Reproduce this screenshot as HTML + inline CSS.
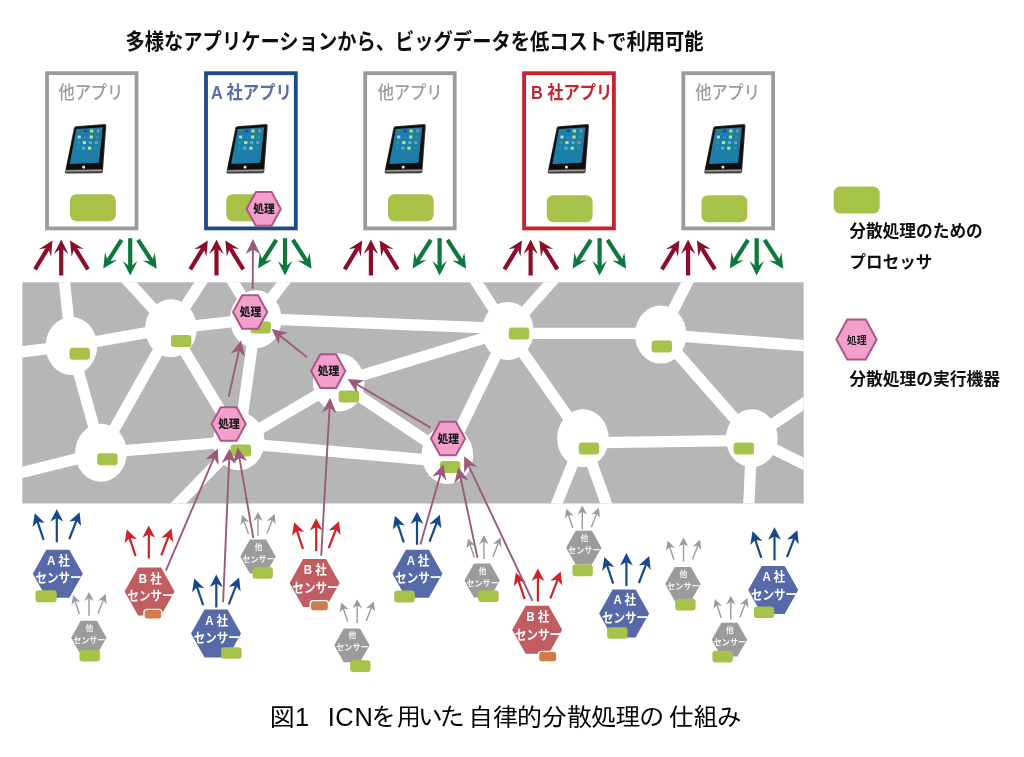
<!DOCTYPE html>
<html lang="ja"><head><meta charset="utf-8"><title>図1 ICNを用いた自律的分散処理の仕組み</title>
<style>html,body{margin:0;padding:0;background:#fff}body{width:1024px;height:757px;overflow:hidden}svg{display:block}</style>
</head><body>
<svg width="1024" height="757" viewBox="0 0 1024 757">
<defs><filter id="crisp" x="-2%" y="-20%" width="104%" height="140%"><feGaussianBlur stdDeviation="0.25"/></filter><filter id="soft" x="-2%" y="-2%" width="104%" height="104%"><feGaussianBlur stdDeviation="0.7"/></filter>
<g id="tablet">
<path d="M9.0,2.2 Q9.5,0.7 11.0,0.5 L39.6,-1.8 Q41.6,-1.9 41.4,0.2 L38.0,45.8 Q37.8,47.4 36.2,47.5 L1.8,47.9 Q-0.2,47.9 0.2,46.0 Z" fill="#3c3c3c"/>
<path d="M10.0,2.6 Q10.4,1.5 11.6,1.4 L39.0,-0.8 Q40.5,-0.9 40.4,0.6 L37.4,43.2 L1.0,43.9 Z" fill="#0c0c0c"/>
<path d="M1.0,44.5 L37.3,43.9 L37.2,45.5 L0.9,46.0 Z" fill="#9a9a9a"/>
<path d="M11.3,3.2 L37.9,1.5 L34.0,37.1 L4.8,38.4 Z" fill="#1b7da6"/>
<g>
<rect x="13.7" y="4.0" width="2.9" height="2.6" fill="#23869a"/><rect x="19.1" y="4.0" width="3.3" height="2.6" fill="#1a4aa8"/><rect x="25.1" y="3.8" width="3.3" height="3.0" fill="#c4d878"/><rect x="31.8" y="3.8" width="2.9" height="2.8" fill="#a08a94"/>
<rect x="12.8" y="9.9" width="3.1" height="2.8" fill="#b4dcdc"/><rect x="18.9" y="10.0" width="2.9" height="2.6" fill="#2a86c4"/><rect x="24.7" y="9.8" width="3.3" height="3.0" fill="#c8dc78"/><rect x="30.9" y="10.0" width="2.9" height="2.6" fill="#2a9a84"/>
<rect x="11.9" y="15.6" width="3.1" height="2.6" fill="#2a9a84"/><rect x="17.8" y="15.4" width="3.3" height="3.0" fill="#c8dc78"/><rect x="23.8" y="15.4" width="3.3" height="3.0" fill="#38b8ea"/><rect x="30.0" y="15.5" width="2.9" height="2.8" fill="#b08a94"/>
<rect x="11.1" y="21.3" width="3.0" height="2.5" fill="#2a88c8"/><rect x="16.8" y="21.0" width="3.3" height="3.0" fill="#38b8ea"/><rect x="23.0" y="21.0" width="3.3" height="3.0" fill="#c8dc78"/><rect x="29.4" y="21.3" width="2.8" height="2.5" fill="#2a9a84"/>
</g>
<rect x="17.4" y="40.0" width="2.8" height="2.8" rx="0.8" fill="#e4e4e4"/>
</g>
</defs>
<rect width="1024" height="757" fill="#fff"/>
<g filter="url(#soft)">
<text x="125.5" y="49.0" font-family='"Liberation Sans","Noto Sans CJK JP",sans-serif' font-size="22" font-weight="bold" fill="#111" textLength="578" lengthAdjust="spacingAndGlyphs">多様なアプリケーションから、ビッグデータを低コストで利用可能</text>
<rect x="47.0" y="73.2" width="89.5" height="155.2" fill="#fff" stroke="#9b9b9b" stroke-width="3.8"/>
<rect x="70.0" y="194.2" width="45.8" height="27" rx="6.5" fill="#a7c24a"/>
<use href="#tablet" x="64.9" y="125.7"/>
<text transform="translate(58.5,99.3) scale(0.885,1)" font-family='"Liberation Sans","Noto Sans CJK JP",sans-serif' font-size="18.3" font-weight="500" fill="#9c9c9c" text-anchor="start" >他アプリ</text>
<rect x="206.0" y="73.2" width="89.8" height="155.2" fill="#fff" stroke="#1c4b8c" stroke-width="3.8"/>
<rect x="226.3" y="194.2" width="45.8" height="27" rx="6.5" fill="#a7c24a"/>
<use href="#tablet" x="226.3" y="125.7"/>
<text transform="translate(210.9,99.3) scale(0.89,1)" font-family='"Liberation Sans","Noto Sans CJK JP",sans-serif' font-size="18.3" font-weight="bold" fill="#5a6ea6" text-anchor="start" >A 社アプリ</text>
<rect x="365.2" y="73.2" width="89.5" height="155.2" fill="#fff" stroke="#9b9b9b" stroke-width="3.8"/>
<rect x="387.9" y="194.2" width="45.8" height="27" rx="6.5" fill="#a7c24a"/>
<use href="#tablet" x="384.4" y="125.7"/>
<text transform="translate(377.7,99.3) scale(0.885,1)" font-family='"Liberation Sans","Noto Sans CJK JP",sans-serif' font-size="18.3" font-weight="500" fill="#9c9c9c" text-anchor="start" >他アプリ</text>
<rect x="524.1" y="73.2" width="89.8" height="155.2" fill="#fff" stroke="#c9202b" stroke-width="3.8"/>
<rect x="546.8" y="195.2" width="45.8" height="27" rx="6.5" fill="#a7c24a"/>
<use href="#tablet" x="547.6" y="125.7"/>
<text transform="translate(530.9,99.3) scale(0.89,1)" font-family='"Liberation Sans","Noto Sans CJK JP",sans-serif' font-size="18.3" font-weight="bold" fill="#c3272f" text-anchor="start" >B 社アプリ</text>
<rect x="683.3" y="73.2" width="89.8" height="155.2" fill="#fff" stroke="#9b9b9b" stroke-width="3.8"/>
<rect x="701.5" y="195.2" width="45.8" height="27" rx="6.5" fill="#a7c24a"/>
<use href="#tablet" x="704.1" y="125.7"/>
<text transform="translate(695.2,99.3) scale(0.885,1)" font-family='"Liberation Sans","Noto Sans CJK JP",sans-serif' font-size="18.3" font-weight="500" fill="#9c9c9c" text-anchor="start" >他アプリ</text>
<line x1="61.2" y1="275.5" x2="61.2" y2="246.8" stroke="#8c1029" stroke-width="4.2"/><polygon points="61.2,239.6 68.5,254.1 61.2,248.0 54.0,254.1" fill="#8c1029"/>
<line x1="35.0" y1="269.3" x2="48.7" y2="246.8" stroke="#8c1029" stroke-width="4.2"/><polygon points="52.5,240.6 51.1,256.8 48.1,247.8 38.8,249.2" fill="#8c1029"/>
<line x1="88.0" y1="269.3" x2="73.9" y2="246.7" stroke="#8c1029" stroke-width="4.2"/><polygon points="70.0,240.6 83.8,249.0 74.5,247.7 71.6,256.7" fill="#8c1029"/>
<line x1="216.5" y1="275.5" x2="216.5" y2="246.8" stroke="#8c1029" stroke-width="4.2"/><polygon points="216.5,239.6 223.8,254.1 216.5,248.0 209.2,254.1" fill="#8c1029"/>
<line x1="190.3" y1="269.3" x2="204.0" y2="246.8" stroke="#8c1029" stroke-width="4.2"/><polygon points="207.8,240.6 206.4,256.8 203.4,247.8 194.1,249.2" fill="#8c1029"/>
<line x1="243.3" y1="269.3" x2="229.2" y2="246.7" stroke="#8c1029" stroke-width="4.2"/><polygon points="225.3,240.6 239.1,249.0 229.8,247.7 226.9,256.7" fill="#8c1029"/>
<line x1="370.9" y1="275.5" x2="370.9" y2="246.8" stroke="#8c1029" stroke-width="4.2"/><polygon points="370.9,239.6 378.1,254.1 370.9,248.0 363.6,254.1" fill="#8c1029"/>
<line x1="344.7" y1="269.3" x2="358.4" y2="246.8" stroke="#8c1029" stroke-width="4.2"/><polygon points="362.2,240.6 360.8,256.8 357.8,247.8 348.5,249.2" fill="#8c1029"/>
<line x1="397.7" y1="269.3" x2="383.6" y2="246.7" stroke="#8c1029" stroke-width="4.2"/><polygon points="379.7,240.6 393.5,249.0 384.2,247.7 381.3,256.7" fill="#8c1029"/>
<line x1="530.6" y1="275.5" x2="530.6" y2="246.8" stroke="#8c1029" stroke-width="4.2"/><polygon points="530.6,239.6 537.9,254.1 530.6,248.0 523.4,254.1" fill="#8c1029"/>
<line x1="504.4" y1="269.3" x2="518.1" y2="246.8" stroke="#8c1029" stroke-width="4.2"/><polygon points="521.9,240.6 520.5,256.8 517.5,247.8 508.2,249.2" fill="#8c1029"/>
<line x1="557.4" y1="269.3" x2="543.3" y2="246.7" stroke="#8c1029" stroke-width="4.2"/><polygon points="539.4,240.6 553.2,249.0 543.9,247.7 541.0,256.7" fill="#8c1029"/>
<line x1="688.1" y1="275.5" x2="688.1" y2="246.8" stroke="#8c1029" stroke-width="4.2"/><polygon points="688.1,239.6 695.4,254.1 688.1,248.0 680.9,254.1" fill="#8c1029"/>
<line x1="661.9" y1="269.3" x2="675.6" y2="246.8" stroke="#8c1029" stroke-width="4.2"/><polygon points="679.4,240.6 678.0,256.8 675.0,247.8 665.7,249.2" fill="#8c1029"/>
<line x1="714.9" y1="269.3" x2="700.8" y2="246.7" stroke="#8c1029" stroke-width="4.2"/><polygon points="696.9,240.6 710.7,249.0 701.4,247.7 698.5,256.7" fill="#8c1029"/>
<line x1="130.2" y1="238.2" x2="130.2" y2="268.2" stroke="#10783c" stroke-width="4.2"/><polygon points="130.2,275.5 122.9,261.0 130.2,267.1 137.4,261.0" fill="#10783c"/>
<line x1="121.5" y1="239.8" x2="107.2" y2="262.3" stroke="#10783c" stroke-width="4.2"/><polygon points="103.3,268.4 105.0,252.3 107.8,261.3 117.2,260.1" fill="#10783c"/>
<line x1="138.1" y1="239.8" x2="152.8" y2="262.6" stroke="#10783c" stroke-width="4.2"/><polygon points="156.7,268.7 142.8,260.4 152.1,261.6 154.9,252.6" fill="#10783c"/>
<line x1="285.0" y1="238.2" x2="285.0" y2="268.2" stroke="#10783c" stroke-width="4.2"/><polygon points="285.0,275.5 277.8,261.0 285.0,267.1 292.2,261.0" fill="#10783c"/>
<line x1="276.3" y1="239.8" x2="262.0" y2="262.3" stroke="#10783c" stroke-width="4.2"/><polygon points="258.1,268.4 259.8,252.3 262.6,261.3 272.0,260.1" fill="#10783c"/>
<line x1="292.9" y1="239.8" x2="307.6" y2="262.6" stroke="#10783c" stroke-width="4.2"/><polygon points="311.5,268.7 297.6,260.4 306.9,261.6 309.7,252.6" fill="#10783c"/>
<line x1="439.6" y1="238.2" x2="439.6" y2="268.2" stroke="#10783c" stroke-width="4.2"/><polygon points="439.6,275.5 432.4,261.0 439.6,267.1 446.9,261.0" fill="#10783c"/>
<line x1="430.9" y1="239.8" x2="416.6" y2="262.3" stroke="#10783c" stroke-width="4.2"/><polygon points="412.7,268.4 414.4,252.3 417.2,261.3 426.6,260.1" fill="#10783c"/>
<line x1="447.5" y1="239.8" x2="462.2" y2="262.6" stroke="#10783c" stroke-width="4.2"/><polygon points="466.1,268.7 452.2,260.4 461.5,261.6 464.3,252.6" fill="#10783c"/>
<line x1="599.6" y1="238.2" x2="599.6" y2="268.2" stroke="#10783c" stroke-width="4.2"/><polygon points="599.6,275.5 592.4,261.0 599.6,267.1 606.9,261.0" fill="#10783c"/>
<line x1="590.9" y1="239.8" x2="576.6" y2="262.3" stroke="#10783c" stroke-width="4.2"/><polygon points="572.7,268.4 574.4,252.3 577.2,261.3 586.6,260.1" fill="#10783c"/>
<line x1="607.5" y1="239.8" x2="622.2" y2="262.6" stroke="#10783c" stroke-width="4.2"/><polygon points="626.1,268.7 612.2,260.4 621.5,261.6 624.3,252.6" fill="#10783c"/>
<line x1="756.7" y1="238.2" x2="756.7" y2="268.2" stroke="#10783c" stroke-width="4.2"/><polygon points="756.7,275.5 749.5,261.0 756.7,267.1 764.0,261.0" fill="#10783c"/>
<line x1="748.0" y1="239.8" x2="733.7" y2="262.3" stroke="#10783c" stroke-width="4.2"/><polygon points="729.8,268.4 731.5,252.3 734.3,261.3 743.7,260.1" fill="#10783c"/>
<line x1="764.6" y1="239.8" x2="779.3" y2="262.6" stroke="#10783c" stroke-width="4.2"/><polygon points="783.2,268.7 769.3,260.4 778.6,261.6 781.4,252.6" fill="#10783c"/>
<clipPath id="band"><rect x="22.3" y="282.3" width="781.4" height="221.2"/></clipPath>
<rect x="22.3" y="282.3" width="781.4" height="221.2" fill="#b6b6b6"/>
<g clip-path="url(#band)" stroke="#fff" stroke-width="11.3" stroke-linecap="butt">
<line x1="71.4" y1="346.0" x2="62.4" y2="263.2"/>
<line x1="71.4" y1="346.0" x2="7.6" y2="353.5"/>
<line x1="71.4" y1="346.0" x2="171.0" y2="328.3"/>
<line x1="71.4" y1="346.0" x2="101.0" y2="452.7"/>
<line x1="171.0" y1="328.3" x2="101.0" y2="452.7"/>
<line x1="171.0" y1="328.3" x2="116.4" y2="268.5"/>
<line x1="171.0" y1="328.3" x2="210.0" y2="268.5"/>
<line x1="255.8" y1="319.2" x2="226.4" y2="271.2"/>
<line x1="255.8" y1="319.2" x2="292.1" y2="271.2"/>
<line x1="171.0" y1="328.3" x2="255.8" y2="319.2"/>
<line x1="171.0" y1="328.3" x2="238.8" y2="441.2"/>
<line x1="255.8" y1="319.2" x2="238.8" y2="441.2"/>
<line x1="255.8" y1="318.6" x2="507.8" y2="328.6"/>
<line x1="338.7" y1="382.4" x2="507.8" y2="330.9"/>
<line x1="338.7" y1="382.4" x2="238.8" y2="441.2"/>
<line x1="338.7" y1="382.4" x2="447.4" y2="455.0"/>
<line x1="238.8" y1="443.1" x2="447.4" y2="461.6"/>
<line x1="238.8" y1="441.2" x2="101.0" y2="452.7"/>
<line x1="238.8" y1="441.2" x2="160.4" y2="521.9"/>
<line x1="101.0" y1="452.7" x2="-1.3" y2="478.3"/>
<line x1="507.8" y1="330.9" x2="467.2" y2="267.7"/>
<line x1="507.8" y1="330.9" x2="564.0" y2="267.7"/>
<line x1="507.8" y1="333.4" x2="660.7" y2="333.4"/>
<line x1="507.8" y1="330.9" x2="447.4" y2="455.0"/>
<line x1="507.8" y1="330.9" x2="582.9" y2="438.3"/>
<line x1="660.7" y1="334.6" x2="695.4" y2="266.6"/>
<line x1="660.7" y1="334.6" x2="846.9" y2="348.9"/>
<line x1="660.7" y1="334.6" x2="751.8" y2="438.3"/>
<line x1="582.9" y1="442.8" x2="751.8" y2="440.4"/>
<line x1="582.9" y1="438.3" x2="549.0" y2="522.8"/>
<line x1="582.9" y1="438.3" x2="613.2" y2="522.8"/>
<line x1="751.8" y1="438.3" x2="748.0" y2="522.8"/>
<line x1="751.8" y1="438.3" x2="819.5" y2="392.9"/>
<line x1="751.8" y1="438.3" x2="819.5" y2="471.7"/>
</g>
<ellipse cx="71.4" cy="346.0" rx="25.8" ry="29" fill="#fff"/>
<ellipse cx="171.0" cy="328.3" rx="25.8" ry="29" fill="#fff"/>
<ellipse cx="101.0" cy="452.7" rx="25.8" ry="29" fill="#fff"/>
<ellipse cx="255.8" cy="319.2" rx="25.8" ry="29" fill="#fff"/>
<ellipse cx="338.7" cy="382.4" rx="25.8" ry="29" fill="#fff"/>
<ellipse cx="507.8" cy="330.9" rx="25.8" ry="29" fill="#fff"/>
<ellipse cx="238.8" cy="441.2" rx="25.8" ry="29" fill="#fff"/>
<ellipse cx="447.4" cy="455.0" rx="25.8" ry="29" fill="#fff"/>
<ellipse cx="660.7" cy="334.6" rx="25.8" ry="29" fill="#fff"/>
<ellipse cx="582.9" cy="438.3" rx="25.8" ry="29" fill="#fff"/>
<ellipse cx="751.8" cy="438.3" rx="25.8" ry="29" fill="#fff"/>
<rect x="69.5" y="347.7" width="20.4" height="12" rx="3" fill="#a7c24a"/>
<rect x="171.0" y="335.0" width="20.4" height="12" rx="3" fill="#a7c24a"/>
<rect x="97.2" y="453.3" width="20.4" height="12" rx="3" fill="#a7c24a"/>
<rect x="250.5" y="321.5" width="20.4" height="12" rx="3" fill="#a7c24a"/>
<rect x="338.7" y="390.4" width="20.4" height="12" rx="3" fill="#a7c24a"/>
<rect x="508.8" y="327.5" width="20.4" height="12" rx="3" fill="#a7c24a"/>
<rect x="230.6" y="444.4" width="20.4" height="12" rx="3" fill="#a7c24a"/>
<rect x="440.0" y="460.9" width="20.4" height="12" rx="3" fill="#a7c24a"/>
<rect x="651.6" y="340.4" width="20.4" height="12" rx="3" fill="#a7c24a"/>
<rect x="578.8" y="442.6" width="20.4" height="12" rx="3" fill="#a7c24a"/>
<rect x="733.6" y="442.6" width="20.4" height="12" rx="3" fill="#a7c24a"/>
<polygon points="32.8,573.7 46.3,549.7 69.3,549.7 82.8,573.7 69.3,597.7 46.3,597.7" fill="#5669a8"/>
<text transform="translate(58.4,564.7) scale(0.9,1)" font-family='"Liberation Sans","Noto Sans CJK JP",sans-serif' font-size="12.8" font-weight="bold" fill="#fff" text-anchor="middle" >A 社</text>
<text transform="translate(58.6,582.4) scale(0.9,1)" font-family='"Liberation Sans","Noto Sans CJK JP",sans-serif' font-size="12.8" font-weight="bold" fill="#fff" text-anchor="middle" >センサー</text>
<rect x="35.5" y="590.2" width="21.2" height="12" rx="3" fill="#a7c24a"/>
<line x1="56.8" y1="542.2" x2="56.8" y2="515.4" stroke="#17488a" stroke-width="2.2"/><polygon points="56.8,509.2 63.2,521.6 56.8,518.1 50.4,521.6" fill="#17488a"/>
<line x1="43.6" y1="539.8" x2="36.7" y2="519.1" stroke="#17488a" stroke-width="2.2"/><polygon points="34.8,513.2 44.8,523.0 37.6,521.7 32.6,527.0" fill="#17488a"/>
<line x1="69.3" y1="539.1" x2="77.4" y2="518.0" stroke="#17488a" stroke-width="2.2"/><polygon points="79.6,512.2 81.1,526.1 76.4,520.5 69.2,521.5" fill="#17488a"/>
<polygon points="124.6,591.6 138.1,567.6 161.1,567.6 174.6,591.6 161.1,615.6 138.1,615.6" fill="#c15b60"/>
<text transform="translate(150.2,582.6) scale(0.9,1)" font-family='"Liberation Sans","Noto Sans CJK JP",sans-serif' font-size="12.8" font-weight="bold" fill="#fff" text-anchor="middle" >B 社</text>
<text transform="translate(150.4,600.3) scale(0.9,1)" font-family='"Liberation Sans","Noto Sans CJK JP",sans-serif' font-size="12.8" font-weight="bold" fill="#fff" text-anchor="middle" >センサー</text>
<rect x="144.0" y="609.4" width="17.8" height="9.8" rx="3" fill="#d27a4a" stroke="#fff" stroke-width="1.4"/>
<line x1="148.8" y1="558.4" x2="148.8" y2="531.6" stroke="#d0212c" stroke-width="2.2"/><polygon points="148.8,525.4 155.2,537.8 148.8,534.3 142.4,537.8" fill="#d0212c"/>
<line x1="135.6" y1="556.0" x2="128.7" y2="535.3" stroke="#d0212c" stroke-width="2.2"/><polygon points="126.8,529.4 136.8,539.2 129.6,537.9 124.6,543.2" fill="#d0212c"/>
<line x1="161.3" y1="555.3" x2="169.4" y2="534.2" stroke="#d0212c" stroke-width="2.2"/><polygon points="171.6,528.4 173.1,542.3 168.4,536.7 161.2,537.7" fill="#d0212c"/>
<polygon points="191.0,633.5 204.5,609.5 227.5,609.5 241.0,633.5 227.5,657.5 204.5,657.5" fill="#5669a8"/>
<text transform="translate(216.6,624.5) scale(0.9,1)" font-family='"Liberation Sans","Noto Sans CJK JP",sans-serif' font-size="12.8" font-weight="bold" fill="#fff" text-anchor="middle" >A 社</text>
<text transform="translate(216.8,642.2) scale(0.9,1)" font-family='"Liberation Sans","Noto Sans CJK JP",sans-serif' font-size="12.8" font-weight="bold" fill="#fff" text-anchor="middle" >センサー</text>
<rect x="221.1" y="647.2" width="20.6" height="11.6" rx="3" fill="#a7c24a"/>
<line x1="216.3" y1="607.5" x2="216.3" y2="580.7" stroke="#17488a" stroke-width="2.2"/><polygon points="216.3,574.5 222.7,586.9 216.3,583.4 209.9,586.9" fill="#17488a"/>
<line x1="203.1" y1="605.1" x2="196.2" y2="584.4" stroke="#17488a" stroke-width="2.2"/><polygon points="194.3,578.5 204.3,588.3 197.1,587.0 192.1,592.3" fill="#17488a"/>
<line x1="228.8" y1="604.4" x2="236.9" y2="583.3" stroke="#17488a" stroke-width="2.2"/><polygon points="239.1,577.5 240.6,591.4 235.9,585.8 228.7,586.8" fill="#17488a"/>
<polygon points="289.6,583.0 303.1,559.0 326.1,559.0 339.6,583.0 326.1,607.0 303.1,607.0" fill="#c15b60"/>
<text transform="translate(315.2,574.0) scale(0.9,1)" font-family='"Liberation Sans","Noto Sans CJK JP",sans-serif' font-size="12.8" font-weight="bold" fill="#fff" text-anchor="middle" >B 社</text>
<text transform="translate(315.4,591.7) scale(0.9,1)" font-family='"Liberation Sans","Noto Sans CJK JP",sans-serif' font-size="12.8" font-weight="bold" fill="#fff" text-anchor="middle" >センサー</text>
<rect x="310.3" y="600.6" width="18.2" height="10.4" rx="3" fill="#d27a4a" stroke="#fff" stroke-width="1.4"/>
<line x1="316.2" y1="551.2" x2="316.2" y2="524.4" stroke="#d0212c" stroke-width="2.2"/><polygon points="316.2,518.2 322.6,530.6 316.2,527.1 309.8,530.6" fill="#d0212c"/>
<line x1="303.0" y1="548.8" x2="296.1" y2="528.1" stroke="#d0212c" stroke-width="2.2"/><polygon points="294.2,522.2 304.2,532.0 297.0,530.7 292.0,536.0" fill="#d0212c"/>
<line x1="328.7" y1="548.1" x2="336.8" y2="527.0" stroke="#d0212c" stroke-width="2.2"/><polygon points="339.0,521.2 340.5,535.1 335.8,529.5 328.6,530.5" fill="#d0212c"/>
<polygon points="392.4,573.7 405.9,549.7 428.9,549.7 442.4,573.7 428.9,597.7 405.9,597.7" fill="#5669a8"/>
<text transform="translate(418.0,564.7) scale(0.9,1)" font-family='"Liberation Sans","Noto Sans CJK JP",sans-serif' font-size="12.8" font-weight="bold" fill="#fff" text-anchor="middle" >A 社</text>
<text transform="translate(418.2,582.4) scale(0.9,1)" font-family='"Liberation Sans","Noto Sans CJK JP",sans-serif' font-size="12.8" font-weight="bold" fill="#fff" text-anchor="middle" >センサー</text>
<rect x="394.2" y="590.6" width="20.6" height="11.8" rx="3" fill="#a7c24a"/>
<line x1="417.0" y1="544.7" x2="417.0" y2="517.9" stroke="#17488a" stroke-width="2.2"/><polygon points="417.0,511.7 423.4,524.1 417.0,520.6 410.6,524.1" fill="#17488a"/>
<line x1="403.8" y1="542.3" x2="396.9" y2="521.6" stroke="#17488a" stroke-width="2.2"/><polygon points="395.0,515.7 405.0,525.5 397.8,524.2 392.8,529.5" fill="#17488a"/>
<line x1="429.5" y1="541.6" x2="437.6" y2="520.5" stroke="#17488a" stroke-width="2.2"/><polygon points="439.8,514.7 441.3,528.6 436.6,523.0 429.4,524.0" fill="#17488a"/>
<polygon points="512.2,629.8 525.7,605.8 548.7,605.8 562.2,629.8 548.7,653.8 525.7,653.8" fill="#c15b60"/>
<text transform="translate(537.8,620.8) scale(0.9,1)" font-family='"Liberation Sans","Noto Sans CJK JP",sans-serif' font-size="12.8" font-weight="bold" fill="#fff" text-anchor="middle" >B 社</text>
<text transform="translate(538.0,638.5) scale(0.9,1)" font-family='"Liberation Sans","Noto Sans CJK JP",sans-serif' font-size="12.8" font-weight="bold" fill="#fff" text-anchor="middle" >センサー</text>
<rect x="538.5" y="651.4" width="18.4" height="10.6" rx="3" fill="#d27a4a" stroke="#fff" stroke-width="1.4"/>
<line x1="537.9" y1="601.5" x2="537.9" y2="574.7" stroke="#d0212c" stroke-width="2.2"/><polygon points="537.9,568.5 544.3,580.9 537.9,577.4 531.5,580.9" fill="#d0212c"/>
<line x1="524.7" y1="599.1" x2="517.8" y2="578.4" stroke="#d0212c" stroke-width="2.2"/><polygon points="515.9,572.5 525.9,582.3 518.7,581.0 513.7,586.3" fill="#d0212c"/>
<line x1="550.4" y1="598.4" x2="558.5" y2="577.3" stroke="#d0212c" stroke-width="2.2"/><polygon points="560.7,571.5 562.2,585.4 557.5,579.8 550.3,580.8" fill="#d0212c"/>
<polygon points="599.1,613.4 612.6,589.4 635.6,589.4 649.1,613.4 635.6,637.4 612.6,637.4" fill="#5669a8"/>
<text transform="translate(624.7,604.4) scale(0.9,1)" font-family='"Liberation Sans","Noto Sans CJK JP",sans-serif' font-size="12.8" font-weight="bold" fill="#fff" text-anchor="middle" >A 社</text>
<text transform="translate(624.9,622.1) scale(0.9,1)" font-family='"Liberation Sans","Noto Sans CJK JP",sans-serif' font-size="12.8" font-weight="bold" fill="#fff" text-anchor="middle" >センサー</text>
<rect x="607.1" y="627.3" width="20.5" height="11.4" rx="3" fill="#a7c24a"/>
<line x1="626.4" y1="586.1" x2="626.4" y2="559.3" stroke="#17488a" stroke-width="2.2"/><polygon points="626.4,553.1 632.8,565.5 626.4,562.0 620.0,565.5" fill="#17488a"/>
<line x1="613.2" y1="583.7" x2="606.3" y2="563.0" stroke="#17488a" stroke-width="2.2"/><polygon points="604.4,557.1 614.4,566.9 607.2,565.6 602.2,570.9" fill="#17488a"/>
<line x1="638.9" y1="583.0" x2="647.0" y2="561.9" stroke="#17488a" stroke-width="2.2"/><polygon points="649.2,556.1 650.7,570.0 646.0,564.4 638.8,565.4" fill="#17488a"/>
<polygon points="748.2,590.1 761.7,566.1 784.7,566.1 798.2,590.1 784.7,614.1 761.7,614.1" fill="#5669a8"/>
<text transform="translate(773.8,581.1) scale(0.9,1)" font-family='"Liberation Sans","Noto Sans CJK JP",sans-serif' font-size="12.8" font-weight="bold" fill="#fff" text-anchor="middle" >A 社</text>
<text transform="translate(774.0,598.8) scale(0.9,1)" font-family='"Liberation Sans","Noto Sans CJK JP",sans-serif' font-size="12.8" font-weight="bold" fill="#fff" text-anchor="middle" >センサー</text>
<rect x="753.9" y="606.5" width="20.3" height="11.6" rx="3" fill="#a7c24a"/>
<line x1="774.5" y1="560.3" x2="774.5" y2="533.5" stroke="#17488a" stroke-width="2.2"/><polygon points="774.5,527.3 780.9,539.7 774.5,536.2 768.1,539.7" fill="#17488a"/>
<line x1="761.3" y1="557.9" x2="754.4" y2="537.2" stroke="#17488a" stroke-width="2.2"/><polygon points="752.5,531.3 762.5,541.1 755.3,539.8 750.3,545.1" fill="#17488a"/>
<line x1="787.0" y1="557.2" x2="795.1" y2="536.1" stroke="#17488a" stroke-width="2.2"/><polygon points="797.3,530.3 798.8,544.2 794.1,538.6 786.9,539.6" fill="#17488a"/>
<polygon points="71.1,637.7 80.7,620.8 96.9,620.8 106.5,637.7 96.9,654.6 80.7,654.6" fill="#9b9b9b"/>
<text transform="translate(89.3,630.7) scale(0.92,1)" font-family='"Liberation Sans","Noto Sans CJK JP",sans-serif' font-size="8.4" font-weight="bold" fill="#eee" text-anchor="middle" >他</text>
<text transform="translate(89.3,642.7) scale(0.96,1)" font-family='"Liberation Sans","Noto Sans CJK JP",sans-serif' font-size="8.4" font-weight="bold" fill="#f4f4f4" text-anchor="middle" >センサー</text>
<rect x="79.5" y="649.8" width="20.4" height="11.8" rx="3" fill="#a7c24a"/>
<line x1="89.0" y1="615.7" x2="89.0" y2="596.4" stroke="#9a9a9a" stroke-width="1.4"/><polygon points="89.0,591.9 93.7,600.9 89.0,598.2 84.3,600.9" fill="#9a9a9a"/>
<line x1="79.5" y1="614.1" x2="74.5" y2="599.4" stroke="#9a9a9a" stroke-width="1.4"/><polygon points="73.1,595.1 80.4,602.1 75.1,601.1 71.5,605.1" fill="#9a9a9a"/>
<line x1="98.0" y1="613.6" x2="104.0" y2="598.3" stroke="#9a9a9a" stroke-width="1.4"/><polygon points="105.6,594.1 106.7,604.2 103.3,600.0 98.0,600.8" fill="#9a9a9a"/>
<polygon points="240.3,556.5 249.9,539.6 266.1,539.6 275.7,556.5 266.1,573.4 249.9,573.4" fill="#9b9b9b"/>
<text transform="translate(258.5,549.5) scale(0.92,1)" font-family='"Liberation Sans","Noto Sans CJK JP",sans-serif' font-size="8.4" font-weight="bold" fill="#eee" text-anchor="middle" >他</text>
<text transform="translate(258.5,561.5) scale(0.96,1)" font-family='"Liberation Sans","Noto Sans CJK JP",sans-serif' font-size="8.4" font-weight="bold" fill="#f4f4f4" text-anchor="middle" >センサー</text>
<rect x="252.5" y="566.9" width="20.4" height="11.8" rx="3" fill="#a7c24a"/>
<line x1="258.0" y1="535.7" x2="258.0" y2="516.4" stroke="#9a9a9a" stroke-width="1.4"/><polygon points="258.0,511.9 262.7,520.9 258.0,518.2 253.3,520.9" fill="#9a9a9a"/>
<line x1="248.5" y1="534.1" x2="243.5" y2="519.4" stroke="#9a9a9a" stroke-width="1.4"/><polygon points="242.1,515.1 249.4,522.1 244.1,521.1 240.5,525.1" fill="#9a9a9a"/>
<line x1="267.0" y1="533.6" x2="273.0" y2="518.3" stroke="#9a9a9a" stroke-width="1.4"/><polygon points="274.6,514.1 275.7,524.2 272.3,520.0 267.0,520.8" fill="#9a9a9a"/>
<polygon points="334.2,645.3 343.8,628.4 360.0,628.4 369.6,645.3 360.0,662.2 343.8,662.2" fill="#9b9b9b"/>
<text transform="translate(352.4,638.3) scale(0.92,1)" font-family='"Liberation Sans","Noto Sans CJK JP",sans-serif' font-size="8.4" font-weight="bold" fill="#eee" text-anchor="middle" >他</text>
<text transform="translate(352.4,650.3) scale(0.96,1)" font-family='"Liberation Sans","Noto Sans CJK JP",sans-serif' font-size="8.4" font-weight="bold" fill="#f4f4f4" text-anchor="middle" >センサー</text>
<rect x="350.1" y="660.2" width="20.4" height="11.8" rx="3" fill="#a7c24a"/>
<line x1="357.2" y1="623.1" x2="357.2" y2="603.8" stroke="#9a9a9a" stroke-width="1.4"/><polygon points="357.2,599.3 361.9,608.3 357.2,605.6 352.5,608.3" fill="#9a9a9a"/>
<line x1="347.7" y1="621.5" x2="342.7" y2="606.8" stroke="#9a9a9a" stroke-width="1.4"/><polygon points="341.3,602.5 348.6,609.5 343.3,608.5 339.7,612.5" fill="#9a9a9a"/>
<line x1="366.2" y1="621.0" x2="372.2" y2="605.7" stroke="#9a9a9a" stroke-width="1.4"/><polygon points="373.8,601.5 374.9,611.6 371.5,607.4 366.2,608.2" fill="#9a9a9a"/>
<polygon points="464.4,580.5 474.0,563.6 490.2,563.6 499.8,580.5 490.2,597.4 474.0,597.4" fill="#9b9b9b"/>
<text transform="translate(482.6,573.5) scale(0.92,1)" font-family='"Liberation Sans","Noto Sans CJK JP",sans-serif' font-size="8.4" font-weight="bold" fill="#eee" text-anchor="middle" >他</text>
<text transform="translate(482.6,585.5) scale(0.96,1)" font-family='"Liberation Sans","Noto Sans CJK JP",sans-serif' font-size="8.4" font-weight="bold" fill="#f4f4f4" text-anchor="middle" >センサー</text>
<rect x="478.2" y="590.2" width="20.4" height="11.8" rx="3" fill="#a7c24a"/>
<line x1="483.9" y1="559.0" x2="483.9" y2="539.7" stroke="#9a9a9a" stroke-width="1.4"/><polygon points="483.9,535.2 488.6,544.2 483.9,541.5 479.2,544.2" fill="#9a9a9a"/>
<line x1="474.4" y1="557.4" x2="469.4" y2="542.7" stroke="#9a9a9a" stroke-width="1.4"/><polygon points="468.0,538.4 475.3,545.4 470.0,544.4 466.4,548.4" fill="#9a9a9a"/>
<line x1="492.9" y1="556.9" x2="498.9" y2="541.6" stroke="#9a9a9a" stroke-width="1.4"/><polygon points="500.5,537.4 501.6,547.5 498.2,543.3 492.9,544.1" fill="#9a9a9a"/>
<polygon points="566.1,547.7 575.7,530.8 591.9,530.8 601.5,547.7 591.9,564.6 575.7,564.6" fill="#9b9b9b"/>
<text transform="translate(584.3,540.7) scale(0.92,1)" font-family='"Liberation Sans","Noto Sans CJK JP",sans-serif' font-size="8.4" font-weight="bold" fill="#eee" text-anchor="middle" >他</text>
<text transform="translate(584.3,552.7) scale(0.96,1)" font-family='"Liberation Sans","Noto Sans CJK JP",sans-serif' font-size="8.4" font-weight="bold" fill="#f4f4f4" text-anchor="middle" >センサー</text>
<rect x="572.4" y="564.4" width="20.4" height="11.8" rx="3" fill="#a7c24a"/>
<line x1="582.3" y1="529.3" x2="582.3" y2="510.0" stroke="#9a9a9a" stroke-width="1.4"/><polygon points="582.3,505.5 587.0,514.5 582.3,511.8 577.6,514.5" fill="#9a9a9a"/>
<line x1="572.8" y1="527.7" x2="567.8" y2="513.0" stroke="#9a9a9a" stroke-width="1.4"/><polygon points="566.4,508.7 573.7,515.7 568.4,514.7 564.8,518.7" fill="#9a9a9a"/>
<line x1="591.3" y1="527.2" x2="597.3" y2="511.9" stroke="#9a9a9a" stroke-width="1.4"/><polygon points="598.9,507.7 600.0,517.8 596.6,513.6 591.3,514.4" fill="#9a9a9a"/>
<polygon points="665.2,584.0 674.8,567.1 691.0,567.1 700.6,584.0 691.0,600.9 674.8,600.9" fill="#9b9b9b"/>
<text transform="translate(683.4,577.0) scale(0.92,1)" font-family='"Liberation Sans","Noto Sans CJK JP",sans-serif' font-size="8.4" font-weight="bold" fill="#eee" text-anchor="middle" >他</text>
<text transform="translate(683.4,589.0) scale(0.96,1)" font-family='"Liberation Sans","Noto Sans CJK JP",sans-serif' font-size="8.4" font-weight="bold" fill="#f4f4f4" text-anchor="middle" >センサー</text>
<rect x="675.2" y="598.8" width="20.4" height="11.8" rx="3" fill="#a7c24a"/>
<line x1="683.5" y1="561.4" x2="683.5" y2="542.1" stroke="#9a9a9a" stroke-width="1.4"/><polygon points="683.5,537.6 688.2,546.6 683.5,543.9 678.8,546.6" fill="#9a9a9a"/>
<line x1="674.0" y1="559.8" x2="669.0" y2="545.1" stroke="#9a9a9a" stroke-width="1.4"/><polygon points="667.6,540.8 674.9,547.8 669.6,546.8 666.0,550.8" fill="#9a9a9a"/>
<line x1="692.5" y1="559.3" x2="698.5" y2="544.0" stroke="#9a9a9a" stroke-width="1.4"/><polygon points="700.1,539.8 701.2,549.9 697.8,545.7 692.5,546.5" fill="#9a9a9a"/>
<polygon points="711.7,639.7 721.3,622.8 737.5,622.8 747.1,639.7 737.5,656.6 721.3,656.6" fill="#9b9b9b"/>
<text transform="translate(729.9,632.7) scale(0.92,1)" font-family='"Liberation Sans","Noto Sans CJK JP",sans-serif' font-size="8.4" font-weight="bold" fill="#eee" text-anchor="middle" >他</text>
<text transform="translate(729.9,644.7) scale(0.96,1)" font-family='"Liberation Sans","Noto Sans CJK JP",sans-serif' font-size="8.4" font-weight="bold" fill="#f4f4f4" text-anchor="middle" >センサー</text>
<rect x="712.4" y="650.8" width="20.4" height="11.8" rx="3" fill="#a7c24a"/>
<line x1="730.8" y1="619.5" x2="730.8" y2="600.2" stroke="#9a9a9a" stroke-width="1.4"/><polygon points="730.8,595.7 735.5,604.7 730.8,602.0 726.1,604.7" fill="#9a9a9a"/>
<line x1="721.3" y1="617.9" x2="716.3" y2="603.2" stroke="#9a9a9a" stroke-width="1.4"/><polygon points="714.9,598.9 722.2,605.9 716.9,604.9 713.3,608.9" fill="#9a9a9a"/>
<line x1="739.8" y1="617.4" x2="745.8" y2="602.1" stroke="#9a9a9a" stroke-width="1.4"/><polygon points="747.4,597.9 748.5,608.0 745.1,603.8 739.8,604.6" fill="#9a9a9a"/>
<line x1="252.7" y1="288.5" x2="253.0" y2="246.5" stroke="#9a5a7e" stroke-width="1.9"/><polygon points="253.0,239.0 260.2,254.0 252.9,249.5 245.7,254.0" fill="#9a5a7e"/>
<line x1="228.7" y1="396.9" x2="239.5" y2="347.7" stroke="#9a5a7e" stroke-width="1.9"/><polygon points="241.1,340.4 245.0,356.6 238.8,350.7 230.8,353.5" fill="#9a5a7e"/>
<line x1="307.0" y1="357.2" x2="277.6" y2="333.7" stroke="#9a5a7e" stroke-width="1.9"/><polygon points="271.7,329.0 287.9,332.7 279.9,335.6 278.9,344.0" fill="#9a5a7e"/>
<line x1="430.5" y1="427.6" x2="354.1" y2="382.8" stroke="#9a5a7e" stroke-width="1.9"/><polygon points="347.6,379.0 364.2,380.3 356.7,384.3 356.9,392.8" fill="#9a5a7e"/>
<line x1="165.9" y1="570.6" x2="214.9" y2="455.3" stroke="#9a5a7e" stroke-width="1.9"/><polygon points="217.8,448.4 218.6,465.0 213.7,458.1 205.3,459.4" fill="#9a5a7e"/>
<line x1="223.1" y1="602.3" x2="229.3" y2="455.9" stroke="#9a5a7e" stroke-width="1.9"/><polygon points="229.6,448.4 236.2,463.7 229.2,458.9 221.7,463.1" fill="#9a5a7e"/>
<line x1="253.3" y1="538.1" x2="238.9" y2="454.8" stroke="#9a5a7e" stroke-width="1.9"/><polygon points="237.6,447.4 247.3,460.9 239.4,457.7 233.0,463.4" fill="#9a5a7e"/>
<line x1="321.2" y1="555.8" x2="329.7" y2="405.3" stroke="#9a5a7e" stroke-width="1.9"/><polygon points="330.1,397.8 336.5,413.2 329.5,408.3 322.0,412.4" fill="#9a5a7e"/>
<line x1="420.4" y1="544.4" x2="441.3" y2="471.4" stroke="#9a5a7e" stroke-width="1.9"/><polygon points="443.4,464.2 446.2,480.6 440.5,474.3 432.3,476.6" fill="#9a5a7e"/>
<line x1="477.5" y1="557.9" x2="459.9" y2="474.5" stroke="#9a5a7e" stroke-width="1.9"/><polygon points="458.3,467.2 468.5,480.4 460.5,477.5 454.3,483.4" fill="#9a5a7e"/>
<line x1="532.6" y1="601.0" x2="467.4" y2="463.1" stroke="#9a5a7e" stroke-width="1.9"/><polygon points="464.2,456.3 477.2,466.8 468.7,465.8 464.1,473.0" fill="#9a5a7e"/>
<polygon points="246.6,208.9 255.8,192.1 271.6,192.1 280.8,208.9 271.6,225.7 255.8,225.7" fill="#f2a0cb" stroke="#ad5587" stroke-width="2" stroke-linejoin="round"/>
<text transform="translate(264.0,213.2) scale(0.93,1)" font-family='"Liberation Sans","Noto Sans CJK JP",sans-serif' font-size="11.6" font-weight="900" fill="#1a1a1a" text-anchor="middle" >処理</text>
<polygon points="233.0,312.0 242.2,295.2 258.0,295.2 267.2,312.0 258.0,328.8 242.2,328.8" fill="#f2a0cb" stroke="#ad5587" stroke-width="2" stroke-linejoin="round"/>
<text transform="translate(250.4,316.3) scale(0.93,1)" font-family='"Liberation Sans","Noto Sans CJK JP",sans-serif' font-size="11.6" font-weight="900" fill="#1a1a1a" text-anchor="middle" >処理</text>
<polygon points="311.1,371.1 320.3,354.3 336.1,354.3 345.3,371.1 336.1,387.9 320.3,387.9" fill="#f2a0cb" stroke="#ad5587" stroke-width="2" stroke-linejoin="round"/>
<text transform="translate(328.5,375.4) scale(0.93,1)" font-family='"Liberation Sans","Noto Sans CJK JP",sans-serif' font-size="11.6" font-weight="900" fill="#1a1a1a" text-anchor="middle" >処理</text>
<polygon points="211.6,424.0 220.8,407.2 236.6,407.2 245.8,424.0 236.6,440.8 220.8,440.8" fill="#f2a0cb" stroke="#ad5587" stroke-width="2" stroke-linejoin="round"/>
<text transform="translate(229.0,428.3) scale(0.93,1)" font-family='"Liberation Sans","Noto Sans CJK JP",sans-serif' font-size="11.6" font-weight="900" fill="#1a1a1a" text-anchor="middle" >処理</text>
<polygon points="430.9,438.5 440.1,421.7 455.9,421.7 465.1,438.5 455.9,455.3 440.1,455.3" fill="#f2a0cb" stroke="#ad5587" stroke-width="2" stroke-linejoin="round"/>
<text transform="translate(448.3,442.8) scale(0.93,1)" font-family='"Liberation Sans","Noto Sans CJK JP",sans-serif' font-size="11.6" font-weight="900" fill="#1a1a1a" text-anchor="middle" >処理</text>
<polygon points="836.4,339.5 847.3,319.6 865.7,319.6 876.6,339.5 865.7,359.4 847.3,359.4" fill="#f2a0cb" stroke="#ad5587" stroke-width="2" stroke-linejoin="round"/>
<text transform="translate(856.8,343.5) scale(0.93,1)" font-family='"Liberation Sans","Noto Sans CJK JP",sans-serif' font-size="10.8" font-weight="bold" fill="#222" text-anchor="middle" >処理</text>
<rect x="833.7" y="186.6" width="46" height="27" rx="6.5" fill="#a7c24a"/>
<text x="849.2" y="236.6" font-family='"Liberation Sans","Noto Sans CJK JP",sans-serif' font-size="17" font-weight="bold" fill="#111" textLength="133.6" lengthAdjust="spacingAndGlyphs">分散処理のための</text>
<text x="849.6" y="268.4" font-family='"Liberation Sans","Noto Sans CJK JP",sans-serif' font-size="17" font-weight="bold" fill="#111" textLength="82.6" lengthAdjust="spacingAndGlyphs">プロセッサ</text>
<text x="849.2" y="384.6" font-family='"Liberation Sans","Noto Sans CJK JP",sans-serif' font-size="17" font-weight="bold" fill="#111" textLength="150.8" lengthAdjust="spacingAndGlyphs">分散処理の実行機器</text>
</g>
<g filter="url(#crisp)"><text x="282.5 302.0 315.0 331.3 344.3 363.6 383.2 408.7 430.7 452.3 481.0 505.7 529.5 554.2 579.5 603.7 628.2 651.7 681.2 705.7 729.2" y="726.4" font-family='"Liberation Sans","IPAGothic","Noto Sans CJK JP",sans-serif' font-size="25.4" fill="#000" text-anchor="middle">図1 ICNを用いた自律的分散処理の仕組み</text></g>
</svg></body></html>
